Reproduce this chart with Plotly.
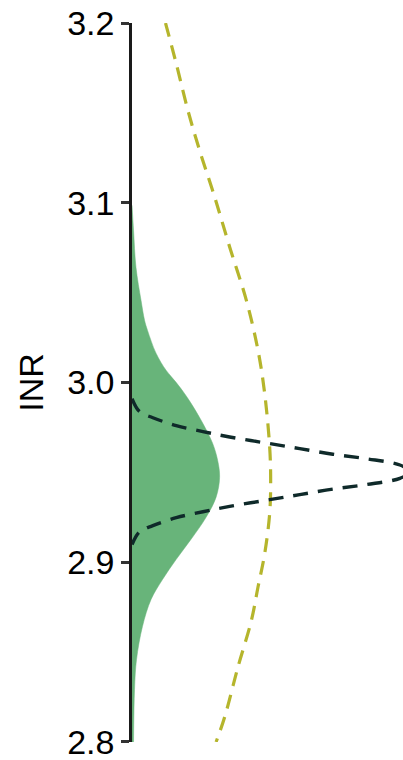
import plotly.graph_objects as go

# Green filled density of INR (INR value, density)
green_inr = [3.0986, 3.0847, 3.0641, 3.0457, 3.0346, 3.0290, 3.0163, 3.0068,
             3.0001, 2.9918, 2.9790, 2.9662, 2.9567, 2.9473, 2.9362, 2.9250,
             2.9128, 2.9015, 2.8904, 2.8793, 2.8643, 2.8459, 2.8292, 2.8000]
green_density = [0.00, 0.17, 0.44, 1.00, 1.39, 1.72, 2.66, 3.77,
                 4.88, 6.10, 7.65, 8.92, 9.48, 9.70, 9.31, 8.20,
                 6.54, 4.88, 3.38, 2.11, 1.16, 0.50, 0.28, 0.17]

# Narrow dark dashed density (peaks just past the right edge)
dark_inr = [2.9910, 2.9838, 2.9804, 2.9760, 2.9727, 2.9697, 2.9660, 2.9632,
            2.9601, 2.9576, 2.9541, 2.9504,
            2.9467, 2.9432, 2.9407, 2.9376, 2.9348, 2.9311, 2.9281, 2.9248,
            2.9204, 2.9170, 2.9098]
dark_density = [0.00, 0.83, 2.31, 4.90, 7.85, 10.81, 15.24, 18.57,
                22.23, 25.94, 29.66, 30.80,
                29.66, 25.94, 22.23, 18.57, 15.24, 10.81, 7.85, 4.90,
                2.31, 0.83, 0.00]

# Wide olive dashed density
olive_inr = [3.2000, 3.1774, 3.1514, 3.1292, 3.1032, 3.0754, 3.0457, 3.0179,
             2.9938, 2.9641, 2.9456, 2.9271, 2.9048, 2.8862, 2.8677, 2.8417,
             2.8139, 2.8000]
olive_density = [3.71, 4.90, 6.19, 7.48, 9.15, 10.81, 12.66, 13.95,
                 14.69, 15.24, 15.35, 15.24, 14.69, 13.95, 13.22, 11.73,
                 10.26, 9.31]

tick_vals = [2.8, 2.9, 3.0, 3.1, 3.2]
tick_text = ["2.8", "2.9", "3.0", "3.1", "3.2"]

FONT = "Liberation Sans, Arial, Helvetica, sans-serif"

fig = go.Figure()

fig.add_trace(go.Scatter(
    x=green_density, y=green_inr, mode="lines", fill="tozerox",
    fillcolor="#68b47a", line=dict(color="#68b47a", width=0.5, shape="spline"),
    hoverinfo="skip", showlegend=False,
))

fig.add_trace(go.Scatter(
    x=olive_density, y=olive_inr, mode="lines",
    line=dict(color="#b5b52c", width=3.2, dash="14px,9px", shape="spline"),
    hoverinfo="skip", showlegend=False,
))

fig.add_trace(go.Scatter(
    x=dark_density, y=dark_inr, mode="lines",
    line=dict(color="#0f2a2a", width=3.4, dash="15px,10px", shape="spline"),
    hoverinfo="skip", showlegend=False,
))

fig.update_layout(
    width=403, height=760,
    margin=dict(l=132, r=0, t=23, b=18, autoexpand=False),
    paper_bgcolor="white", plot_bgcolor="white",
    font=dict(family=FONT, color="black"),
    xaxis=dict(visible=False, range=[0, 30], fixedrange=True),
    yaxis=dict(
        range=[2.79998, 3.20002], tickvals=tick_vals, ticktext=tick_text,
        showline=True, linecolor="#1a1a1a", linewidth=2.5,
        ticks="outside", ticklen=8, tickwidth=2.5, tickcolor="#333333",
        showgrid=False, zeroline=False,
        tickfont=dict(family=FONT, size=34, color="black"),
        ticklabeloverflow="allow",
        title=dict(text="INR", font=dict(family=FONT, size=34, color="black"),
                   standoff=14),
        automargin=False,
    ),
)

fig.write_html("out.html")
